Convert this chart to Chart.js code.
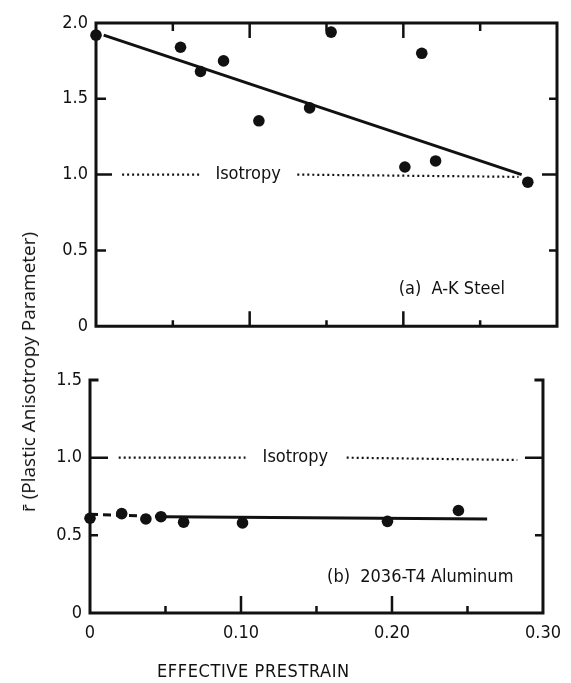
<!DOCTYPE html>
<html>
<head>
<meta charset="utf-8">
<script src="https://cdn.jsdelivr.net/npm/chart.js@4.4.1/dist/chart.umd.min.js"></script>
<style>
  body { margin: 0; background: #fff; }
  #wrap { position: relative; width: 571px; height: 683px; overflow: hidden; }
  #topBox { position: absolute; left: 0; top: 0; width: 571px; height: 345px; }
  #botBox { position: absolute; left: 0; top: 345px; width: 571px; height: 338px; }
  .ytitle { position: absolute; left: 28px; top: 372px; transform: translate(-50%, -50%) rotate(-90deg);
            font: 19px "Open Sans", sans-serif; white-space: nowrap; color: #111; }
  .xtitle { position: absolute; left: 157px; top: 660px; font: 18px "Liberation Sans Narrow", "DejaVu Sans Condensed", sans-serif;
            letter-spacing: 0.6px; color: #111; white-space: nowrap; }
</style>
</head>
<body>
<div id="wrap">
  <div id="topBox"><canvas id="steelChart"></canvas></div>
  <div id="botBox"><canvas id="aluChart"></canvas></div>
  <div class="ytitle">r&#772; (Plastic Anisotropy Parameter)</div>
  <div class="xtitle">EFFECTIVE PRESTRAIN</div>
</div>
<script>
// (a) A-K steel
const steelStrain = [0, 0.055, 0.068, 0.083, 0.106, 0.139, 0.153, 0.201, 0.212, 0.221, 0.281];
const steelR      = [1.92, 1.84, 1.68, 1.75, 1.355, 1.44, 1.94, 1.05, 1.80, 1.09, 0.95];
const steelFitX   = [0.005, 0.277];
const steelFitY   = [1.92, 1.0];
const steelIsoX   = [0.017, 0.0675, 0.1, 0.131, 0.275];
const steelIsoY   = [1.0, 1.0, null, 1.0, 0.985];

// (b) 2036-T4 aluminum
const aluStrain = [0, 0.021, 0.037, 0.047, 0.062, 0.101, 0.197, 0.244];
const aluR      = [0.61, 0.64, 0.605, 0.62, 0.585, 0.58, 0.59, 0.66];
const aluFitX   = [0, 0.05, 0.263];
const aluFitY   = [0.635, 0.62, 0.605];
const aluIsoX   = [0.019, 0.103, 0.136, 0.17, 0.283];
const aluIsoY   = [1.0, 1.0, null, 1.0, 0.985];

// ticks
const xTickLabels  = [0, 0.10, 0.20, 0.30];
const xMajorTicks  = [0.10, 0.20];
const xMinorTicks  = [0.05, 0.15, 0.25];
const steelYTicks  = [0, 0.5, 1.0, 1.5, 2.0];
const aluYTicks    = [0, 0.5, 1.0, 1.5];
const yMajorTicks  = [1.0];
const steelYMinor  = [0.5, 1.5];
const aluYMinor    = [0.5];

const ink = "#111";
const narrow = '"Liberation Sans Narrow", "DejaVu Sans Condensed", sans-serif';

function pts(xs, ys) {
  return xs.map((x, i) => ({ x: x, y: ys[i] }));
}

function fmtY(v) { return v === 0 ? "0" : v.toFixed(1); }
function fmtX(v) { return v === 0 ? "0" : v.toFixed(2); }

// frame + inward tick marks
const frameTicks = {
  id: "frameTicks",
  beforeDatasetsDraw(chart, args, o) {
    const { ctx, chartArea: a, scales: { x, y } } = chart;
    ctx.save();
    ctx.strokeStyle = ink;
    ctx.lineWidth = 3;
    ctx.lineCap = "square";
    ctx.beginPath();
    if (o.box) {
      ctx.rect(a.left, a.top, a.right - a.left, a.bottom - a.top);
    } else {
      ctx.moveTo(a.left + 7, a.top);
      ctx.lineTo(a.left, a.top);
      ctx.lineTo(a.left, a.bottom);
      ctx.lineTo(a.right, a.bottom);
      ctx.lineTo(a.right, a.top);
      ctx.lineTo(a.right - 7, a.top);
    }
    ctx.stroke();

    ctx.lineWidth = 2.5;
    ctx.lineCap = "butt";
    ctx.beginPath();
    (o.bottom || []).forEach(([vals, len]) => vals.forEach(v => {
      const px = x.getPixelForValue(v);
      ctx.moveTo(px, a.bottom); ctx.lineTo(px, a.bottom - len);
    }));
    (o.top || []).forEach(([vals, len]) => vals.forEach(v => {
      const px = x.getPixelForValue(v);
      ctx.moveTo(px, a.top); ctx.lineTo(px, a.top + len);
    }));
    (o.left || []).forEach(([vals, len]) => vals.forEach(v => {
      const py = y.getPixelForValue(v);
      ctx.moveTo(a.left, py); ctx.lineTo(a.left + len, py);
    }));
    (o.right || []).forEach(([vals, len]) => vals.forEach(v => {
      const py = y.getPixelForValue(v);
      ctx.moveTo(a.right, py); ctx.lineTo(a.right - len, py);
    }));
    ctx.stroke();
    ctx.restore();
  }
};

// text notes anchored in data units
const notes = {
  id: "notes",
  afterDatasetsDraw(chart, args, o) {
    const { ctx, scales: { x, y } } = chart;
    ctx.save();
    ctx.fillStyle = ink;
    ctx.font = "18px " + narrow;
    ctx.textBaseline = "middle";
    (o.items || []).forEach(n => {
      ctx.textAlign = n.align || "left";
      ctx.fillText(n.text, x.getPixelForValue(n.x), y.getPixelForValue(n.y));
    });
    ctx.restore();
  }
};

function datasets(sx, sy, fx, fy, ix, iy, dashFirst) {
  return [
    {
      type: "scatter", data: pts(sx, sy), clip: false,
      pointRadius: 5.8, pointBackgroundColor: ink, pointBorderWidth: 0
    },
    {
      type: "line", data: pts(fx, fy), clip: false,
      borderColor: ink, borderWidth: 3, pointRadius: 0,
      segment: dashFirst ? { borderDash: c => c.p0DataIndex === 0 ? [8, 5] : [] } : {}
    },
    {
      type: "line", data: pts(ix, iy), clip: false, spanGaps: false,
      borderColor: ink, borderWidth: 2.2, borderDash: [2, 3], pointRadius: 0
    }
  ];
}

const tickFont = { family: narrow, size: 18 };

new Chart(document.getElementById("steelChart"), {
  data: { datasets: datasets(steelStrain, steelR, steelFitX, steelFitY, steelIsoX, steelIsoY, false) },
  options: {
    responsive: true, maintainAspectRatio: false, animation: false,
    layout: { padding: { left: 0, right: 14, top: 23, bottom: 9 } },
    plugins: {
      legend: { display: false }, tooltip: { enabled: false },
      frameTicks: {
        box: true,
        bottom: [[xMajorTicks, 15], [xMinorTicks, 6]],
        top: [[xMajorTicks, 15], [xMinorTicks, 8]],
        left: [[yMajorTicks, 16], [steelYMinor, 10]],
        right: [[yMajorTicks, 15], [steelYMinor, 8]]
      },
      notes: {
        items: [
          { text: "Isotropy", x: 0.099, y: 1.0, align: "center" },
          { text: "(a)  A-K Steel", x: 0.197, y: 0.24 }
        ]
      }
    },
    scales: {
      x: { type: "linear", min: 0, max: 0.3, display: false },
      y: {
        type: "linear", min: 0, max: 2,
        grid: { display: false, drawTicks: false }, border: { display: false },
        afterBuildTicks: s => { s.ticks = steelYTicks.map(v => ({ value: v })); },
        afterFit: s => { s.width = 96; },
        ticks: { color: ink, font: tickFont, padding: 8, callback: fmtY }
      }
    }
  },
  plugins: [frameTicks, notes]
});

new Chart(document.getElementById("aluChart"), {
  data: { datasets: datasets(aluStrain, aluR, aluFitX, aluFitY, aluIsoX, aluIsoY, true) },
  options: {
    responsive: true, maintainAspectRatio: false, animation: false,
    layout: { padding: { left: 0, right: 16, top: 35, bottom: 0 } },
    plugins: {
      legend: { display: false }, tooltip: { enabled: false },
      frameTicks: {
        box: false,
        bottom: [[xMajorTicks, 17], [xMinorTicks, 7]],
        left: [[yMajorTicks, 18], [aluYMinor, 8]],
        right: [[yMajorTicks, 18], [aluYMinor, 8]]
      },
      notes: {
        items: [
          { text: "Isotropy", x: 0.136, y: 1.0, align: "center" },
          { text: "(b)  2036-T4 Aluminum", x: 0.157, y: 0.23 }
        ]
      }
    },
    scales: {
      x: {
        type: "linear", min: 0, max: 0.3,
        grid: { display: false, drawTicks: false }, border: { display: false },
        afterBuildTicks: s => { s.ticks = xTickLabels.map(v => ({ value: v })); },
        afterFit: s => { s.height = 70; },
        ticks: { color: ink, font: tickFont, padding: 10, maxRotation: 0, callback: fmtX }
      },
      y: {
        type: "linear", min: 0, max: 1.5,
        grid: { display: false, drawTicks: false }, border: { display: false },
        afterBuildTicks: s => { s.ticks = aluYTicks.map(v => ({ value: v })); },
        afterFit: s => { s.width = 90; },
        ticks: { color: ink, font: tickFont, padding: 8, callback: fmtY }
      }
    }
  },
  plugins: [frameTicks, notes]
});
</script>
</body>
</html>
